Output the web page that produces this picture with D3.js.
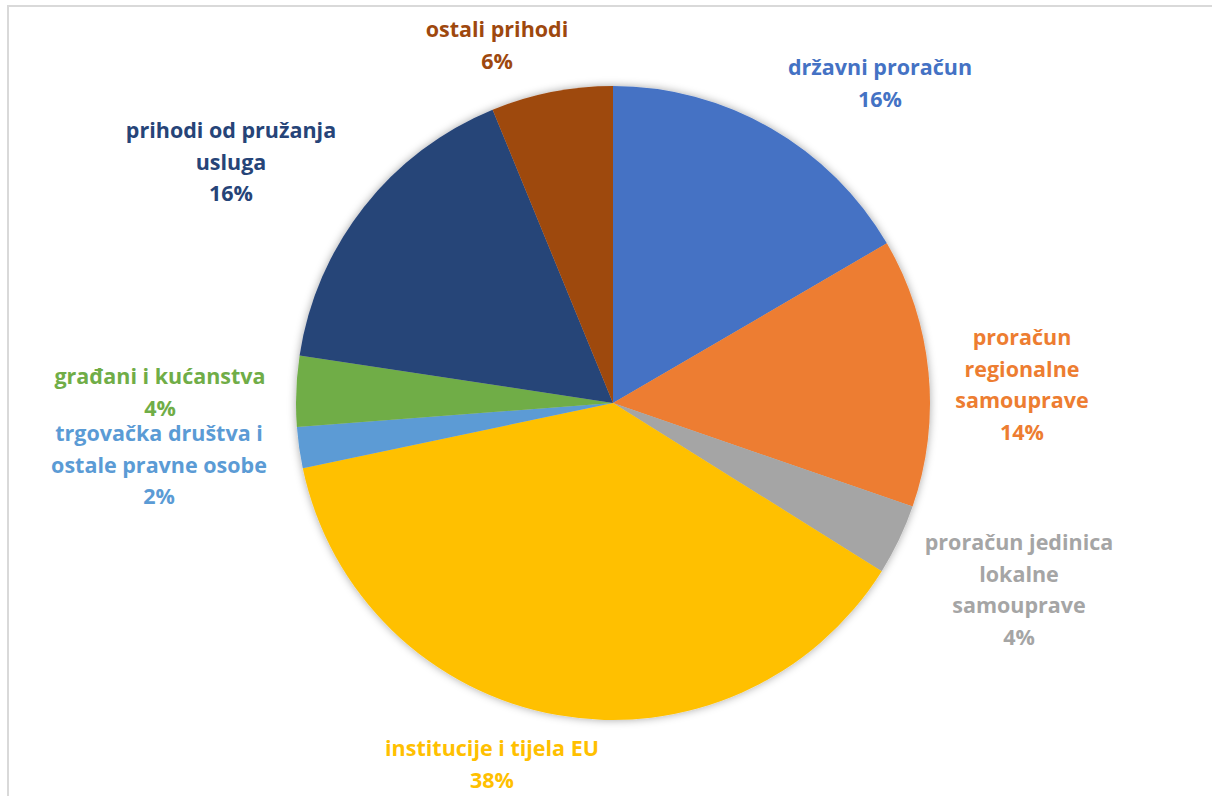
<!DOCTYPE html>
<html>
<head>
<meta charset="utf-8">
<script src="https://cdn.jsdelivr.net/npm/d3@7"></script>
<style>
  body { margin: 0; background: #fff; }
  svg { display: block; }
</style>
</head>
<body>
<div id="chart"></div>
<script>
var WIDTH = 1212, HEIGHT = 796;

// Data (share of total, clockwise from 12 o'clock)
var categories = [
    'državni proračun',
    'proračun regionalne samouprave',
    'proračun jedinica lokalne samouprave',
    'institucije i tijela EU',
    'trgovačka društva i ostale pravne osobe',
    'građani i kućanstva',
    'prihodi od pružanja usluga',
    'ostali prihodi'
];
var values = [16.6, 13.7, 3.6, 37.8, 2.1, 3.6, 16.4, 6.2];
var pctLabels = ['16%', '14%', '4%', '38%', '2%', '4%', '16%', '6%'];

// Label lines as wrapped in the picture
var labelLines = [
    ['državni proračun'],
    ['proračun', 'regionalne', 'samouprave'],
    ['proračun jedinica', 'lokalne', 'samouprave'],
    ['institucije i tijela EU'],
    ['trgovačka društva i', 'ostale pravne osobe'],
    ['građani i kućanstva'],
    ['prihodi od pružanja', 'usluga'],
    ['ostali prihodi']
];
var colors = ['#4472C4', '#ED7D31', '#A5A5A5', '#FFC000', '#5B9BD5', '#70AD47', '#264478', '#9E480E'];

// Label anchor (centre x, baseline of first line), layout only
var labelPos = [[880, 75], [1022, 345], [1019, 550], [492, 756], [159, 441], [160, 384], [231, 138], [497, 37]];
var LINE_H = 31.5;

var svg = d3.select('#chart').append('svg')
    .attr('width', WIDTH)
    .attr('height', HEIGHT);

// Chart frame (right and bottom edges are cut off in the picture)
svg.append('rect')
    .attr('x', 8).attr('y', 6)
    .attr('width', WIDTH + 20).attr('height', HEIGHT + 20)
    .attr('fill', '#fff')
    .attr('stroke', '#d9d9d9')
    .attr('stroke-width', 2);

var defs = svg.append('defs');
var shadow = defs.append('filter').attr('id', 'shadow')
    .attr('x', '-10%').attr('y', '-10%').attr('width', '120%').attr('height', '120%');
shadow.append('feDropShadow')
    .attr('dx', 0).attr('dy', 0)
    .attr('stdDeviation', 4)
    .attr('flood-color', '#000')
    .attr('flood-opacity', 0.35);

var cx = 613, cy = 403, radius = 317;

var pie = d3.pie().sort(null).value(function(d) { return d; });
var arc = d3.arc().innerRadius(0).outerRadius(radius);
var arcs = pie(values);

var g = svg.append('g')
    .attr('transform', 'translate(' + cx + ',' + cy + ')')
    .attr('filter', 'url(#shadow)');

g.selectAll('path.slice')
    .data(arcs)
    .enter().append('path')
    .classed('slice', true)
    .attr('d', arc)
    .attr('fill', function(d, i) { return colors[i]; });

// Data labels
var labels = svg.append('g').selectAll('text.label')
    .data(arcs)
    .enter().append('text')
    .classed('label', true)
    .attr('text-anchor', 'middle')
    .attr('font-family', '"Open Sans", sans-serif')
    .attr('font-weight', 'bold')
    .attr('font-size', '21.5px')
    .attr('fill', function(d, i) { return colors[i]; });

labels.each(function(d, i) {
    var t = d3.select(this);
    var lines = labelLines[i].concat([pctLabels[i]]);
    lines.forEach(function(line, j) {
        t.append('tspan')
            .attr('x', labelPos[i][0])
            .attr('y', labelPos[i][1] + j * LINE_H)
            .text(line);
    });
});
</script>
</body>
</html>
